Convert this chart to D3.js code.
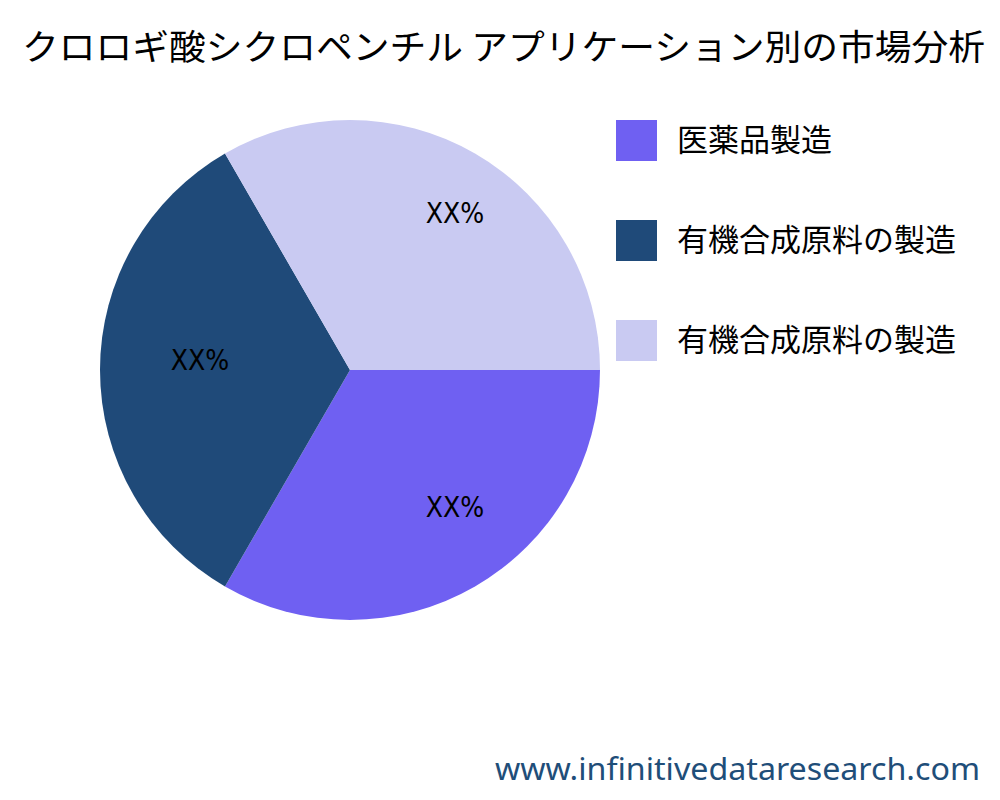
<!DOCTYPE html>
<html><head><meta charset="utf-8">
<script src="https://cdn.jsdelivr.net/npm/d3@7"></script>
<style>body{margin:0;background:#fff}</style></head>
<body><svg id="c" width="1000" height="800"></svg>
<script>
const categories = ["医薬品製造","有機合成原料の製造","有機合成原料の製造"];
const values = [1,1,1];
const labels = ["XX%","XX%","XX%"];
const colors = ["#6f60f2","#1f4a79","#c9caf2"];
const font = "'Noto Sans CJK JP','Noto Sans',sans-serif";
const svg = d3.select("#c");
svg.append("text").attr("x",22).attr("y",60).attr("textLength",963).attr("lengthAdjust","spacingAndGlyphs")
  .attr("font-family",font).attr("font-size",35).text("クロロギ酸シクロペンチル アプリケーション別の市場分析");
const cx=350, cy=370, R=250;
const pie = d3.pie().sort(null).startAngle(Math.PI/2).endAngle(Math.PI/2+2*Math.PI);
const arcs = pie(values);
const arc = d3.arc().innerRadius(0).outerRadius(R);
const g = svg.append("g").attr("transform",`translate(${cx},${cy})`);
g.selectAll("path").data(arcs).join("path").attr("d",arc).attr("fill",(d,i)=>colors[i]);
const la = d3.arc().innerRadius(170).outerRadius(170);
g.selectAll("text").data(arcs).join("text")
  .attr("transform",d=>{const c=la.centroid(d);return `translate(${c[0]+20},${c[1]-10})`;}).attr("text-anchor","middle").attr("dy","0.35em")
  .attr("font-family","'DejaVu Sans Condensed','DejaVu Sans',sans-serif").attr("font-stretch","condensed").attr("font-size",28).text((d,i)=>labels[i]);
const leg = svg.append("g");
const ly = d3.scaleBand().domain(d3.range(categories.length)).range([120,420]);
categories.forEach((c,i)=>{
  leg.append("rect").attr("x",616).attr("y",ly(i)).attr("width",41).attr("height",41).attr("fill",colors[i]);
  leg.append("text").attr("x",677).attr("y",ly(i)+20).attr("dy","0.35em").attr("font-family",font)
    .attr("font-size",31).text(c);
});
svg.append("text").attr("x",495).attr("y",780).attr("textLength",485).attr("lengthAdjust","spacingAndGlyphs")
  .attr("font-family","'Noto Sans',sans-serif")
  .attr("font-size",30).attr("fill","#1f4e79").text("www.infinitivedataresearch.com");
</script></body></html>
